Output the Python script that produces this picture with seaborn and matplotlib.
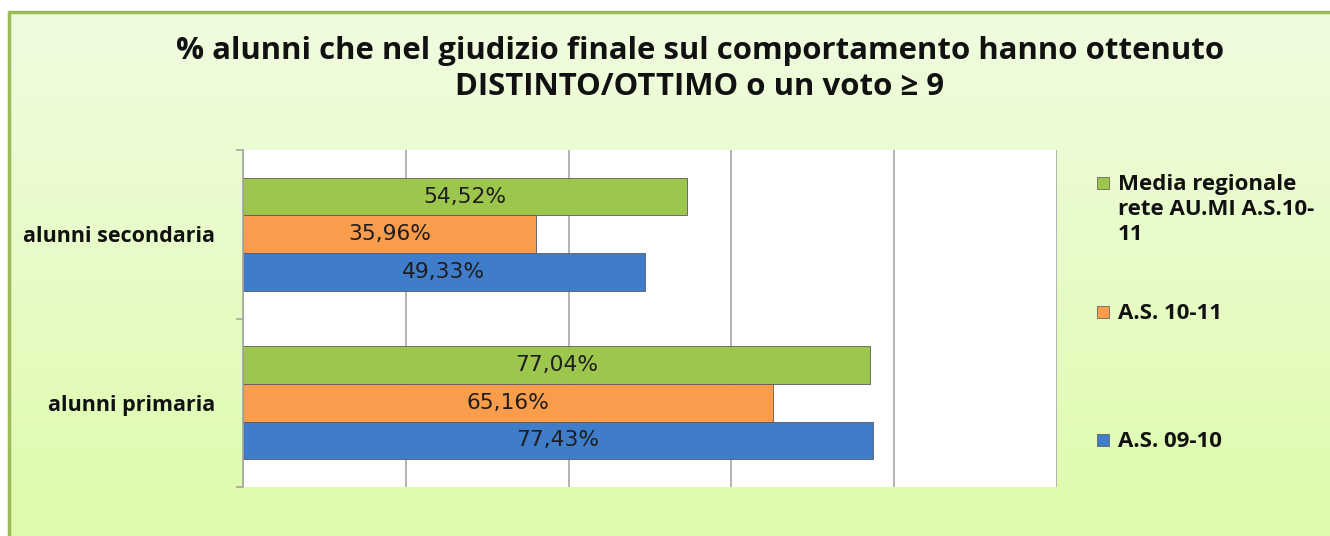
import numpy as np
import pandas as pd
import matplotlib
matplotlib.use("Agg")
import matplotlib.pyplot as plt
import seaborn as sns
from matplotlib.patches import Rectangle

categories = ["alunni secondaria", "alunni primaria"]
series = ["Media regionale\nrete AU.MI A.S.10-\n11", "A.S. 10-11", "A.S. 09-10"]
values = {
    series[0]: [54.52, 77.04],
    series[1]: [35.96, 65.16],
    series[2]: [49.33, 77.43],
}
colors = ["#9cc64c", "#f99c4b", "#3f7cca"]
title = "% alunni che nel giudizio finale sul comportamento hanno ottenuto\nDISTINTO/OTTIMO o un voto \u2265 9"

rows = []
for s in series:
    for c, v in zip(categories, values[s]):
        rows.append({"cat": c, "serie": s, "val": v})
df = pd.DataFrame(rows)

sns.set_theme(style="white")
plt.rcParams['font.family'] = ['Open Sans', 'DejaVu Sans']

W, H = 1330, 536
fig = plt.figure(figsize=(W / 100, H / 100), dpi=100)
fig.patch.set_facecolor("white")

# background panel with gradient
bg = fig.add_axes([0, 0, 1, 1], zorder=-5)
bg.axis("off")
grad = np.linspace(0, 1, 256)[:, None]
top = np.array([240, 251, 224]) / 255
bot = np.array([221, 252, 172]) / 255
img = top[None, None, :] * (1 - grad[..., None]) + bot[None, None, :] * grad[..., None]
bg.imshow(img, extent=[9, W, H, 12], aspect="auto", zorder=0)
bg.plot([9, 9], [12, H], color="#9bbb59", lw=2.5, zorder=2)
bg.plot([9, W], [12, 12], color="#9bbb59", lw=2.5, zorder=2)
bg.set_xlim(0, W)
bg.set_ylim(H, 0)

ax = fig.add_axes([243 / W, (H - 487) / H, 814 / W, 337 / H])
ax.set_facecolor("white")
sns.barplot(data=df, y="cat", x="val", hue="serie", order=categories, hue_order=series,
            palette=colors, orient="h", width=0.67, ax=ax, legend=False,
            edgecolor="none", saturation=1)

for bars, s in zip(ax.containers, series):
    for b in bars:
        b.set_edgecolor("#5a5a5a")
        b.set_linewidth(0.6)
    ax.bar_label(bars, labels=[f"{v:.2f}%".replace(".", ",") for v in values[s]],
                 label_type="center", fontsize=15.7, color="#1e1e1e",
                 family="DejaVu Sans")

ax.set_xlim(0, 100)
ax.set_ylim(1.5, -0.5)
ax.set_xticks([0, 20, 40, 60, 80, 100])
ax.set_xticklabels([])
ax.tick_params(axis="x", length=0)
ax.grid(axis="x", color="#a6a6a6", lw=1.2)
ax.set_axisbelow(True)
ax.set_xlabel("")
ax.set_ylabel("")
ax.set_yticks([0, 1])
ax.set_yticklabels(categories, fontsize=15.5, fontweight="bold", color="#111111")
ax.tick_params(axis="y", which="major", length=0, pad=20)
ax.set_yticks([-0.5, 0.5, 1.5], minor=True)
ax.tick_params(axis="y", which="minor", length=5, width=1.2, color="#a6a6a6", direction="out", left=True)
for sp in ["top", "bottom", "right"]:
    ax.spines[sp].set_visible(False)
ax.spines["left"].set_color("#a6a6a6")
ax.spines["left"].set_linewidth(1.2)

fig.text(700 / W, 1 - 69 / H, title, ha="center", va="center", fontsize=22.4,
         fontweight="bold", color="#111111", linespacing=1.25)

# legend
leg_y = [183, 312, 440]
for s, c, y in zip(series, colors, leg_y):
    bg.add_patch(Rectangle((1097, y - 6), 12, 12, facecolor=c, edgecolor="#555555", lw=0.5, zorder=3))
    bg.text(1118, y - 9, s, ha="left", va="top", fontsize=16, fontweight="bold",
            color="#111111", linespacing=1.25, zorder=3)

fig.savefig("out.png", dpi=100)
